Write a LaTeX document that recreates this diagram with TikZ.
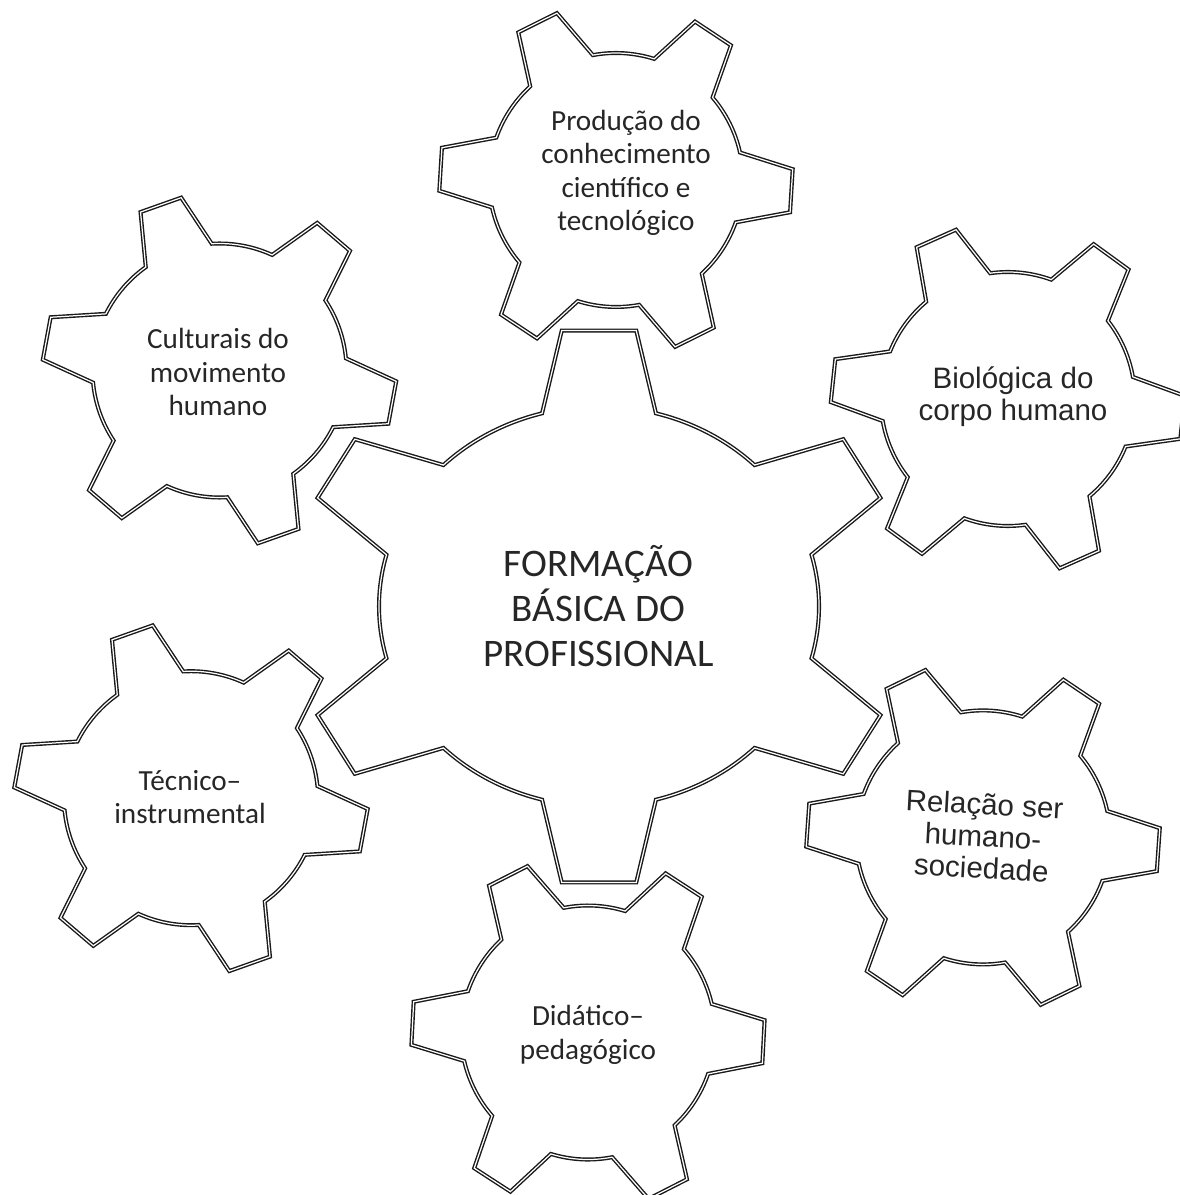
\documentclass[tikz,border=0pt]{standalone}
\usepackage{fontspec}
\setmainfont{Carlito}
\newfontfamily\arialfont{Liberation Sans}
\tikzset{
  gearline/.style={draw=black!90, line width=0.4pt, double=white, double distance=0.35pt, line join=miter},
  lbl/.style={align=center, inner sep=0pt, text=black!85, font=\fontsize{8.3}{9.5}\selectfont},
  lblarial/.style={align=center, inner sep=0pt, text=black!85, font=\arialfont\fontsize{8.4}{9.1}\selectfont},
  lblbig/.style={align=center, inner sep=0pt, text=black!85, font=\fontsize{11.1}{12.8}\selectfont}
}
% cx, cy, sx, sy, rotation, outer radius, base half angle, tip half angle
\newcommand{\drawgear}[8]{%
  \begin{scope}[shift={(#1,#2)}, xscale=#3, yscale=#4]
    \draw[gearline] ({#5-#8}:#6) -- ({#5+#8}:#6) -- ({#5+#7}:1)
      arc[start angle={#5+#7}, delta angle={60-2*#7}, radius=1]
      \foreach \k in {1,...,5}{
        -- ({#5+60*\k-#8}:#6) -- ({#5+60*\k+#8}:#6) -- ({#5+60*\k+#7}:1)
        arc[start angle={#5+60*\k+#7}, delta angle={60-2*#7}, radius=1]
      } -- cycle;
  \end{scope}}
\begin{document}
\begin{tikzpicture}[x=0.01cm, y=0.01cm]
  \useasboundingbox (0,0) rectangle (1180,-1195);
  \clip (0,0) rectangle (1180,-1195);
  % central gear
  \drawgear{599}{-606.5}{220}{200}{30}{1.39}{15}{7}
  % satellite gears
  \drawgear{616}{-180}{127}{127}{-3.5}{1.394}{16}{7}
  \drawgear{219.5}{-370.5}{127}{127}{-10.5}{1.394}{16}{7}
  \drawgear{1007.8}{-399}{127}{127}{-6}{1.394}{16}{7}
  \drawgear{191}{-798.2}{127}{127}{-10.5}{1.394}{16}{7}
  \drawgear{983}{-837.4}{127}{127}{-4}{1.394}{16}{7}
  \drawgear{588}{-1032.5}{127}{127}{-3}{1.394}{16}{7}
  % labels
  \node[lblbig] (central) at (598.5,-606) {FORMAÇÃO\\BÁSICA DO\\PROFISSIONAL};
  \node[lbl] (prod) at (626,-173) {Produção do\\conhecimento\\científico e\\tecnológico};
  \node[lbl] (cult) at (218,-372) {Culturais do\\movimento\\humano};
  \node[lblarial] (bio) at (1013,-397) {Biológica do\\corpo humano};
  \node[lbl] (tec) at (190,-797) {Técnico–\\instrumental};
  \node[lblarial, rotate=-3] (rel) at (983,-836) {Relação ser\\humano-\\sociedade};
  \node[lbl] (did) at (588,-1035) {Didático–\\pedagógico};
\end{tikzpicture}
\end{document}
